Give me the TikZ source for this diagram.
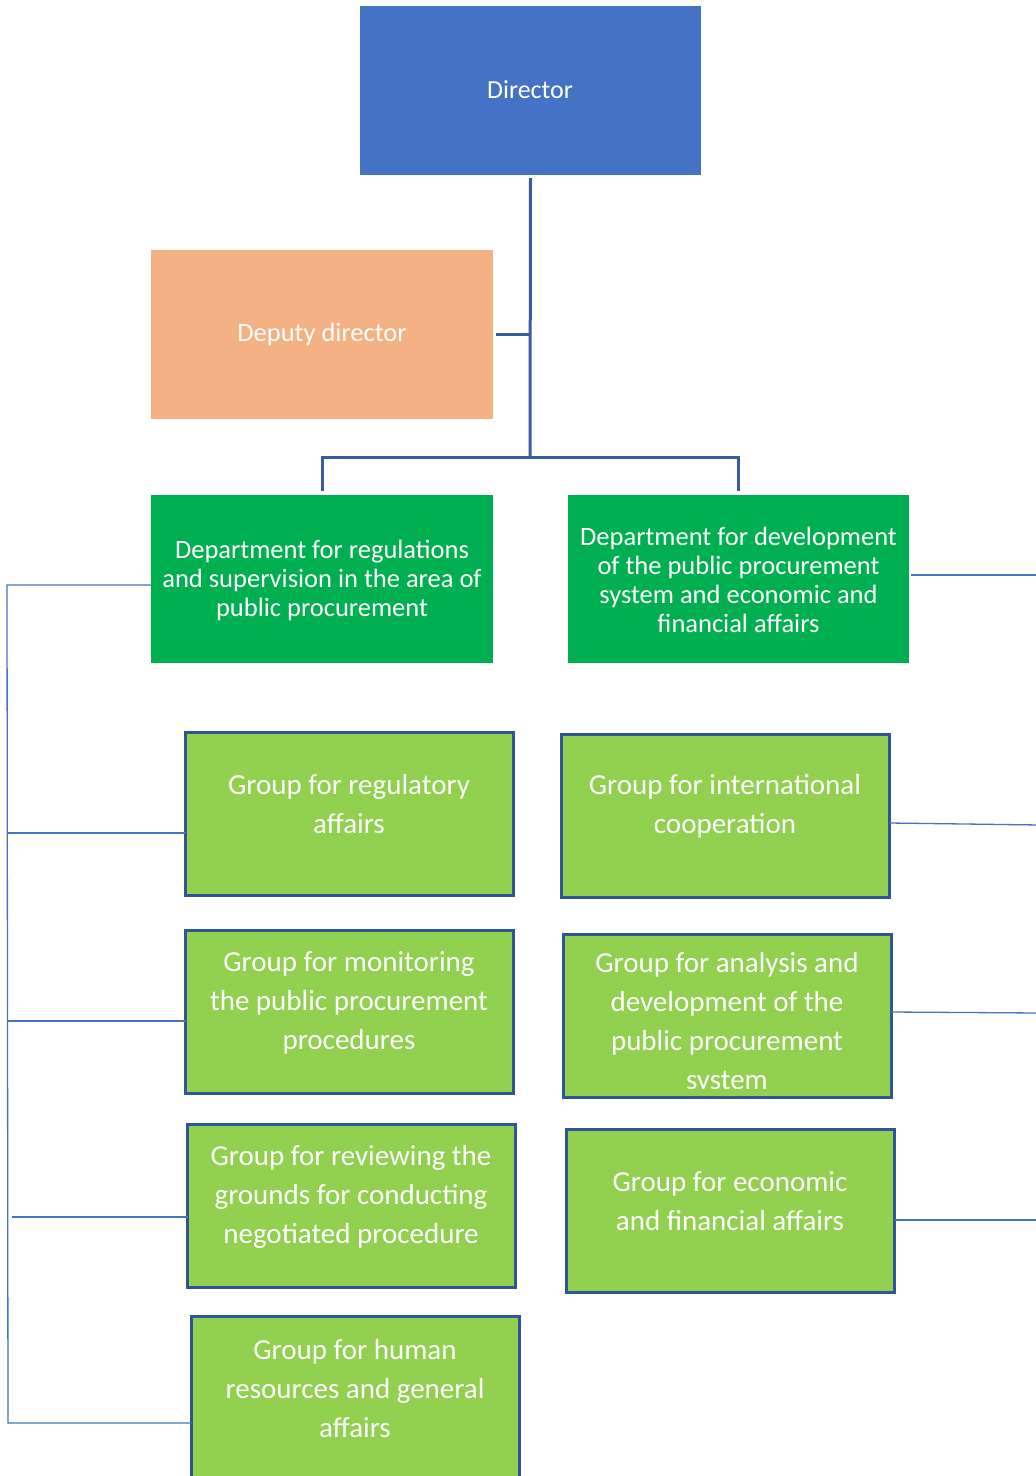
\documentclass[tikz,border=0pt]{standalone}
\usepackage{fontspec}
\setmainfont{Carlito}
\definecolor{dirblue}{HTML}{4472C4}
\definecolor{deputyorange}{HTML}{F4B183}
\definecolor{deptgreen}{HTML}{00B050}
\definecolor{groupgreen}{HTML}{92D050}
\definecolor{groupedge}{HTML}{2F5597}
\definecolor{trunkblue}{HTML}{3A5BA0}
\definecolor{thinblue}{HTML}{4472C4}
\begin{document}
\begin{tikzpicture}[x=1pt,y=-1pt,
  boxbase/.style={rectangle, inner sep=0pt, outer sep=0pt, anchor=north west},
  topbox/.style={boxbase, fill=#1},
  groupbox/.style={boxbase, fill=groupgreen, draw=groupedge, line width=3pt,
    minimum width=328pt, minimum height=163pt},
  caption/.style={text=white, align=center, inner sep=0pt},
  smallcap/.style={caption, font=\fontsize{26}{29}\selectfont},
  groupcap/.style={caption, font=\fontsize{29}{39}\selectfont},
  trunk/.style={draw=trunkblue, line width=3pt},
  feeder/.style={draw=thinblue, line width=1.3pt}]
\useasboundingbox (0,0) rectangle (1036,1476);
\clip (0,0) rectangle (1036,1476);

% management
\node[topbox=dirblue, minimum width=341pt, minimum height=169pt] (dir) at (360,6) {};
\node[smallcap] (dirtext) at (530,90) {Director};
\node[topbox=deputyorange, minimum width=342pt, minimum height=169pt] (dep) at (151,250) {};
\node[smallcap, font=\fontsize{26.5}{29}\selectfont] (deptext) at (322,334) {Deputy director};

% departments
\node[topbox=deptgreen, minimum width=342pt, minimum height=168pt] (dl) at (151,495) {};
\node[smallcap, font=\fontsize{26.5}{29}\selectfont] (dltext) at (322,580)
  {Department for regulations\\and supervision in the area of\\public procurement};
\node[topbox=deptgreen, minimum width=341pt, minimum height=168pt] (dr) at (568,495) {};
\node[smallcap, font=\fontsize{26.5}{29}\selectfont] (drtext) at (738.5,580)
  {Department for development\\of the public procurement\\system and economic and\\financial affairs};

% groups, left column
\node[groupbox] (greg) at (185.5,732.5) {};
\node[groupcap] (gregtext) at (349,804) {Group for regulatory\\affairs};
\node[groupbox] (gmon) at (185.5,930.5) {};
\node[groupcap] (gmontext) at (349,1003) {Group for monitoring\\the public procurement\\procedures};
\node[groupbox] (grev) at (187.5,1124.5) {};
\node[groupcap] (grevtext) at (351,1197) {Group for reviewing the\\grounds for conducting\\negotiated procedure};
\node[groupbox, minimum height=200pt] (ghum) at (191.5,1316.5) {};
\node[groupcap] (ghumtext) at (355,1389) {Group for human\\resources and general\\affairs};

% groups, right column
\node[groupbox] (gint) at (561.5,734.5) {};
\node[groupcap] (ginttext) at (725,806) {Group for international\\cooperation};
\node[groupbox] (gana) at (563.5,934.5) {};
\begin{scope}
  \clip (gana.north west) rectangle (gana.east |- 0,1088);
  \node[groupcap] (ganatext) at (727,1023) {Group for analysis and\\development of the\\public procurement\\system};
\end{scope}
\node[groupbox] (geco) at (566.5,1129.5) {};
\node[groupcap] (gecotext) at (730,1201) {Group for economic\\and financial affairs};

% trunk lines
\coordinate (split) at (530,457);
\draw[trunk] ([yshift=-3pt]dir.south) -- (split);
\draw[trunk] ([xshift=3pt]dep.east) -- (dep.east -| split);
\draw[trunk, shorten <=4pt] (dl.north) |- (split) -| ([yshift=4pt]dr.north);

% left feeder bus
\coordinate (bustop) at (7,585);
\coordinate (busbot) at (8,1423);
\draw[feeder] ([yshift=-6pt]dl.west) -- (bustop) -- (busbot) -- (busbot -| ghum.west);
\draw[feeder] ([yshift=-19pt]greg.west) -- ([yshift=-19pt]greg.west -| bustop);
\draw[feeder] ([yshift=-9pt]gmon.west) -- ([yshift=-9pt]gmon.west -| bustop);
\coordinate (revend) at (12,1217);
\draw[feeder] ([yshift=-11pt]grev.west) -- (revend);

% right feeders leaving the sheet
\coordinate (rdl) at (1040,575);
\coordinate (rint) at (1040,825);
\coordinate (rana) at (1040,1013);
\coordinate (reco) at (1040,1220);
\draw[feeder] ([xshift=2pt,yshift=4pt]dr.east) -- (rdl);
\draw[feeder] ([yshift=-7pt]gint.east) -- (rint);
\draw[feeder] ([yshift=4pt]gana.east) -- (rana);
\draw[feeder] ([yshift=-9pt]geco.east) -- (reco);
\end{tikzpicture}
\end{document}
